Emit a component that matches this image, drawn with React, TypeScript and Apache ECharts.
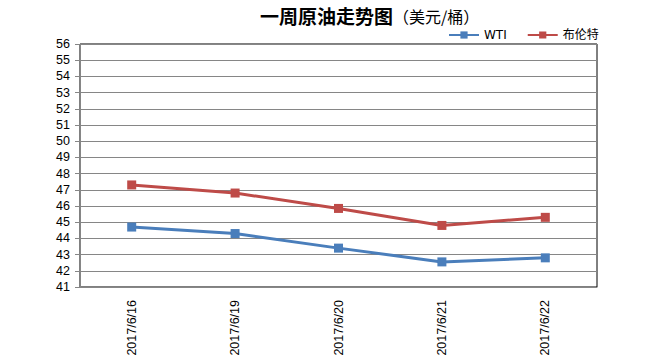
import React, { useEffect, useRef } from "react";
import * as echarts from "echarts";

const categories = ["2017/6/16", "2017/6/19", "2017/6/20", "2017/6/21", "2017/6/22"];
const wti = [44.7, 44.3, 43.4, 42.55, 42.8];
const brent = [47.3, 46.8, 45.85, 44.8, 45.3];
const seriesNames = ["WTI", "布伦特"];

export default function App() {
  const ref = useRef<HTMLDivElement>(null);
  useEffect(() => {
    document.body.style.margin = "0";
    const chart = echarts.init(ref.current!, null, { renderer: "svg" });
    chart.setOption({
      animation: false,
      backgroundColor: "#fff",
      textStyle: { fontFamily: "'Liberation Sans', 'Noto Sans CJK SC', sans-serif" },
      title: {
        text: "{b|一周原油走势图}{n|（美元/桶）}",
        left: 255,
        top: 1,
        textStyle: {
          fontWeight: "normal",
          rich: {
            b: { fontSize: 19, fontWeight: "bold", color: "#000", fontFamily: "'Noto Sans CJK SC'" },
            n: { fontSize: 16, fontWeight: "normal", color: "#000", fontFamily: "'Noto Sans CJK SC'" },
          },
        },
      },
      legend: {
        top: 24,
        left: 443,
        itemWidth: 30,
        itemHeight: 9,
        itemGap: 20,
        textStyle: { fontSize: 12, color: "#000", fontFamily: "'DejaVu Sans', 'Noto Sans CJK SC'" },
        data: seriesNames,
      },
      grid: {
        left: 80,
        right: 53,
        top: 44,
        bottom: 74,
        show: true,
        borderColor: "#000",
        borderWidth: 1,
        outerBoundsMode: "none",
        containLabel: false,
      },
      xAxis: {
        type: "category",
        data: categories,
        boundaryGap: true,
        axisLine: { lineStyle: { color: "#868686" } },
        axisTick: { inside: true, length: 5, lineStyle: { color: "#868686" } },
        axisLabel: { rotate: 90, fontSize: 12.5, color: "#000", margin: 13, fontFamily: "'Liberation Sans'" },
      },
      yAxis: {
        type: "value",
        min: 41,
        max: 56,
        interval: 1,
        axisLine: { show: true, lineStyle: { color: "#868686" } },
        axisTick: { show: true, length: 5, lineStyle: { color: "#868686" } },
        axisLabel: { fontSize: 12.5, color: "#000", margin: 10, fontFamily: "'Liberation Sans'" },
        splitLine: { lineStyle: { color: "#868686" } },
      },
      series: [
        {
          name: seriesNames[0],
          type: "line",
          data: wti,
          symbol: "rect",
          symbolSize: 9,
          lineStyle: { color: "#4A7EBB", width: 3 },
          itemStyle: { color: "#4A7EBB" },
        },
        {
          name: seriesNames[1],
          type: "line",
          data: brent,
          symbol: "rect",
          symbolSize: 9,
          lineStyle: { color: "#BE4B48", width: 3 },
          itemStyle: { color: "#BE4B48" },
        },
      ],
    });
    return () => chart.dispose();
  }, []);
  return <div ref={ref} style={{ width: 650, height: 361 }} />;
}
